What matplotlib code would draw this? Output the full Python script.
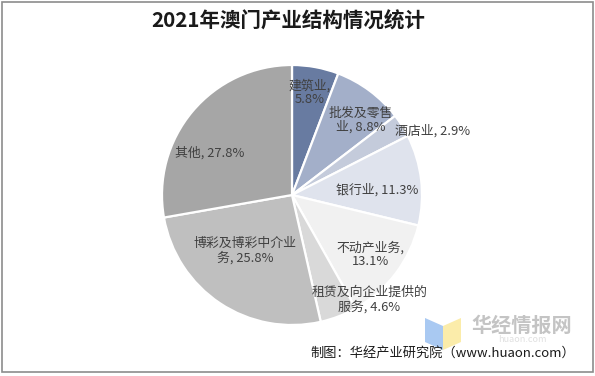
import matplotlib
matplotlib.use("Agg")
import matplotlib.pyplot as plt
import numpy as np
from matplotlib.patches import Rectangle, Polygon

plt.rcParams['font.family'] = ['Noto Sans CJK SC', 'DejaVu Sans']

categories = ["建筑业", "批发及零售业", "酒店业", "银行业", "不动产业务",
              "租赁及向企业提供的服务", "博彩及博彩中介业务", "其他"]
values = [5.8, 8.8, 2.9, 11.3, 13.1, 4.6, 25.8, 27.8]
label_texts = ["建筑业,\n5.8%", "批发及零售\n业, 8.8%", "酒店业, 2.9%", "银行业, 11.3%",
               "不动产业务,\n13.1%", "租赁及向企业提供的\n服务, 4.6%",
               "博彩及博彩中介业\n务, 25.8%", "其他, 27.8%"]
colors = ["#687BA1", "#A3AFC9", "#C4CBDB", "#DFE3ED", "#F1F1F1", "#D9D9D9", "#BFBFBF", "#A6A6A6"]
# label placement: radius fraction and angle shift (deg) relative to wedge middle
label_r = [0.80, 0.78, 1.19, 0.655, 0.76, 1.0, 0.56, 0.71]
label_shift = [0.5, -5.9, -7.8, -3.3, 0.0, 15.4, -6.7, 12.6]

W, H = 595, 376
fig = plt.figure(figsize=(W / 100, H / 100), dpi=100)
fig.patch.set_facecolor("white")

cx, cy, R = 292, 195, 130
ax = fig.add_axes([(cx - R) / W, (H - cy - R) / H, 2 * R / W, 2 * R / H])
wedges, _ = ax.pie(values, colors=colors, startangle=90, counterclock=False,
                   radius=1.0, wedgeprops=dict(edgecolor="white", linewidth=1.6))
ax.set_xlim(-1, 1)
ax.set_ylim(-1, 1)
ax.set_aspect("equal")
ax.axis("off")

for w, txt, r, sh in zip(wedges, label_texts, label_r, label_shift):
    ang = np.deg2rad((w.theta1 + w.theta2) / 2 + sh)
    ax.text(r * np.cos(ang), r * np.sin(ang), txt, ha="center", va="center",
            fontsize=9.3, color="#404040", linespacing=1.1, clip_on=False)

fig.text(288 / W, 1 - 21 / H, "2021年澳门产业结构情况统计", ha="center", va="center",
         fontsize=14.8, fontweight="bold", color="#1a1a1a")

# watermark
fig.patches.append(Polygon([[425 / W, 1 - 318 / H], [443 / W, 1 - 326 / H],
                            [443 / W, 1 - 350 / H], [425 / W, 1 - 342 / H]],
                           closed=True, transform=fig.transFigure, facecolor="#A9C9F2",
                           edgecolor="none"))
fig.patches.append(Polygon([[443 / W, 1 - 326 / H], [461 / W, 1 - 318 / H],
                            [461 / W, 1 - 342 / H], [443 / W, 1 - 350 / H]],
                           closed=True, transform=fig.transFigure, facecolor="#FBECAA",
                           edgecolor="none"))
fig.text(522 / W, 1 - 325 / H, "华经情报网", ha="center", va="center", fontsize=14.5,
         fontweight="bold", color="#C4C4C4")
fig.text(522 / W, 1 - 340 / H, "huaon.com", ha="center", va="center", fontsize=6.5,
         color="#E0E0E0")

fig.text(443 / W, 1 - 353 / H, "制图：华经产业研究院（www.huaon.com）", ha="center",
         va="center", fontsize=9.5, color="#1a1a1a")

fig.patches.append(Rectangle((1.5 / W, 4 / H), 591 / W, 370.5 / H, transform=fig.transFigure,
                             fill=False, edgecolor="#8C8C8C", linewidth=1.2))

fig.savefig("out.png", dpi=100, facecolor="white")
